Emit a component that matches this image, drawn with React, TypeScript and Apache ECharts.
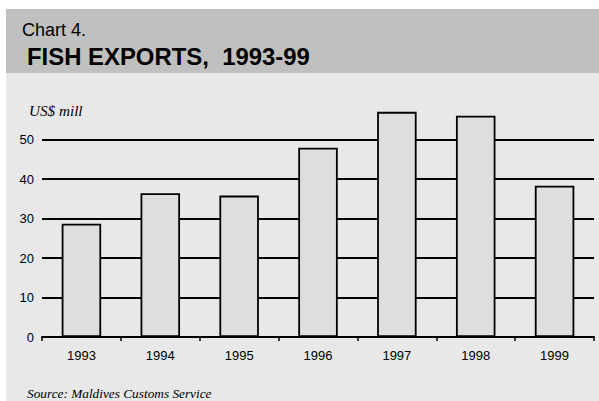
import React, { useEffect, useRef } from "react";
import * as echarts from "echarts";

const categories = ["1993", "1994", "1995", "1996", "1997", "1998", "1999"];
const exportsValues = [28.7, 36.4, 35.8, 47.9, 57.0, 56.0, 38.3];
const yMin = 0;
const yMax = 60;
const yInterval = 10;

const SANS = "'Liberation Sans', Arial, Helvetica, sans-serif";
const SERIF = "'Liberation Serif', 'Times New Roman', Times, serif";

export default function App() {
  const ref = useRef<HTMLDivElement>(null);
  useEffect(() => {
    if (!ref.current) return;
    const chart = echarts.init(ref.current, null, { renderer: "svg" });
    chart.setOption({
      animation: false,
      backgroundColor: "#ffffff",
      graphic: [
        { type: "rect", z: -10, shape: { x: 6, y: 9, width: 593, height: 64 }, style: { fill: "#c0c0c0" } },
        { type: "rect", z: -10, shape: { x: 6, y: 73, width: 593, height: 328 }, style: { fill: "#e8e8e8" } },
        {
          type: "text", x: 22, y: 29.8,
          style: { text: "Chart 4.", font: `18px ${SANS}`, fill: "#000", verticalAlign: "middle" },
        },
        {
          type: "text", x: 27, y: 56.8,
          style: { text: "FISH EXPORTS,  1993-99", font: `bold 23.9px ${SANS}`, fill: "#000", verticalAlign: "middle" },
        },
        {
          type: "text", x: 29, y: 110.8,
          style: { text: "US$ mill", font: `italic 15.2px ${SERIF}`, fill: "#000", verticalAlign: "middle" },
        },
        {
          type: "text", x: 27, y: 393.8,
          style: { text: "Source: Maldives Customs Service", font: `italic 13.3px ${SERIF}`, fill: "#000", verticalAlign: "middle" },
        },
      ],
      grid: { left: 42, right: 5, top: 100, bottom: 64, containLabel: false },
      xAxis: {
        type: "category",
        data: categories,
        axisLine: { show: true, lineStyle: { color: "#000", width: 2 } },
        axisTick: { show: true, length: 4, lineStyle: { color: "#000", width: 1.5 } },
        axisLabel: { color: "#000", fontFamily: SANS, fontSize: 13, margin: 12 },
        splitLine: { show: false },
      },
      yAxis: {
        type: "value",
        min: yMin,
        max: yMax,
        interval: yInterval,
        axisLine: { show: false },
        axisTick: { show: false },
        axisLabel: { color: "#000", fontFamily: SANS, fontSize: 13, margin: 8, showMaxLabel: false },
        splitLine: { show: true, showMinLine: false, showMaxLine: false, lineStyle: { color: "#000", width: 1.8 } },
      },
      series: [
        {
          type: "bar",
          data: exportsValues,
          barWidth: 39.5,
          itemStyle: { color: "#dedede", borderColor: "#000", borderWidth: 1.8 },
        },
      ],
    });
    return () => chart.dispose();
  }, []);
  return (
    <div
      ref={ref}
      style={{ position: "absolute", left: 0, top: 0, width: 599, height: 401 }}
    />
  );
}
